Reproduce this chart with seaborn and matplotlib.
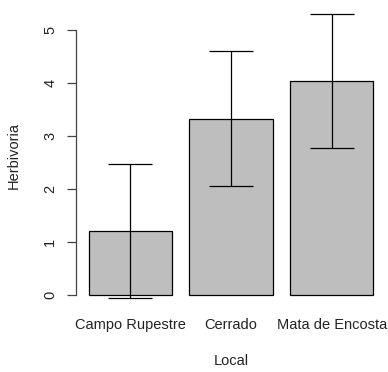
import matplotlib
matplotlib.use("Agg")
import matplotlib.pyplot as plt
import seaborn as sns
import pandas as pd

# valores
locais = ["Campo Rupestre", "Cerrado", "Mata de Encosta"]
medias = [1.21, 3.33, 4.04]
desvios = [1.27, 1.28, 1.27]

df = pd.DataFrame({"Local": locais, "Herbivoria": medias})

sns.set_style("white")
plt.rcParams["font.family"] = ["Liberation Sans", "DejaVu Sans"]

fig = plt.figure(figsize=(3.88, 3.72), dpi=100)
ax = fig.add_axes([0.1959, 0.1785, 0.799, 0.8048])

sns.barplot(data=df, x="Local", y="Herbivoria", color="#BEBEBE",
            edgecolor="black", linewidth=0.9, width=0.826, saturation=1,
            errorbar=None, ax=ax)
ax.errorbar(range(len(medias)), medias, yerr=desvios, fmt="none",
            ecolor="black", elinewidth=0.9, capsize=15.5, capthick=0.9)

ax.set_xlim(-0.54, 2.54)
ax.set_ylim(-0.2, 5.45)
ax.set_yticks([0, 1, 2, 3, 4, 5])
for s in ["top", "right", "bottom"]:
    ax.spines[s].set_visible(False)
ax.spines["left"].set_bounds(0, 5)
ax.spines["left"].set_color("#444444")
ax.spines["left"].set_linewidth(0.9)

fs = 10.5
ax.tick_params(axis="y", length=6.5, width=0.9, color="#444444", pad=7,
               labelsize=fs, labelcolor="#222222", left=True)
for lab in ax.get_yticklabels():
    lab.set_rotation(90)
    lab.set_va("center")
ax.tick_params(axis="x", length=0, pad=9, labelsize=fs, labelcolor="#222222")

ax.set_xlabel("Local", fontsize=fs, color="#222222", labelpad=16)
ax.set_ylabel("Herbivoria", fontsize=fs, color="#222222", labelpad=16)

fig.savefig("out.png", dpi=100)
